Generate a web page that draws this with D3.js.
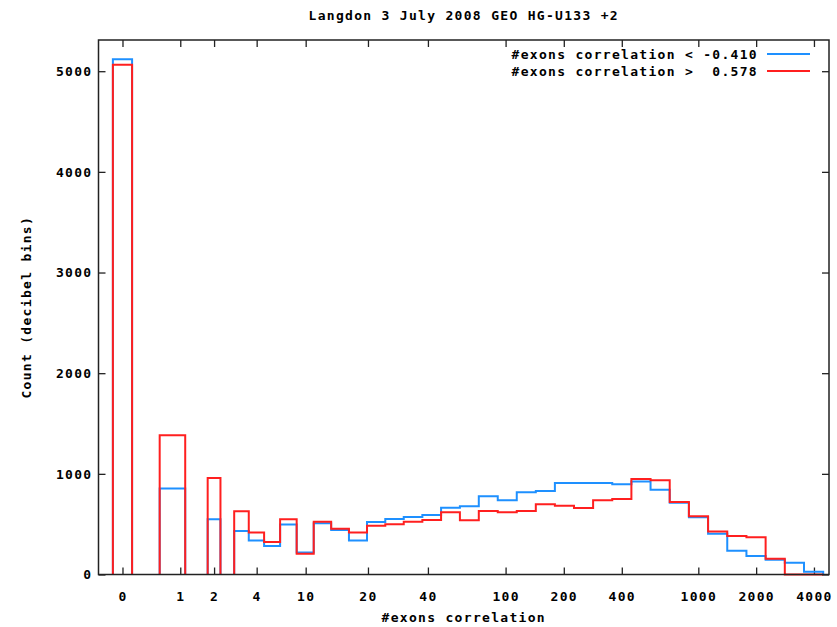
<!DOCTYPE html>
<html>
<head>
<meta charset="utf-8">
<script src="https://cdn.jsdelivr.net/npm/d3@7"></script>
<style>
  body { margin: 0; background: #fff; }
  text { font-family: "DejaVu Sans Mono", monospace; font-weight: bold; font-size: 13px; letter-spacing: 1.3px; fill: #000; }
</style>
</head>
<body>
<div id="chart"></div>
<script>
// n = 0 bin, edges in dB of (n+1)
var zeroBin = [-0.5, 0.5];
// other bins, edges in dB of the exon count n
var binLoDb = [-2.5, 2.5, 4.5, 5.5, 6.5, 7.5, 8.5, 9.5, 10.5, 11.5, 12.5, 13.5, 14.5, 15.5, 16.5, 17.5, 18.5,
  19.5, 20.5, 21.5, 22.5, 23.5, 24.5, 25.5, 26.5, 27.5, 28.5, 29.5, 30.5, 31.5, 32.5, 33.5, 34.5, 35.5];
var binHiDb = [0.5, 3.5, 5.5, 6.5, 7.5, 8.5, 9.5, 10.5, 11.5, 12.5, 13.5, 14.5, 15.5, 16.5, 17.5, 18.5, 19.5,
  20.5, 21.5, 22.5, 23.5, 24.5, 25.5, 26.5, 27.5, 28.5, 29.5, 30.5, 31.5, 32.5, 33.5, 34.5, 35.5, 36.5];

// counts (first value = n 0 bin)
var lowCorr = [5120, 855, 550, 432, 338, 283, 497, 218, 508, 443, 338, 522, 551, 571, 591, 664, 677, 777,
  737, 817, 830, 910, 910, 910, 896, 923, 843, 714, 568, 405, 236, 183, 146, 116, 27];
var highCorr = [5065, 1383, 958, 628, 417, 324, 548, 207, 524, 455, 417, 485, 498, 525, 541, 618, 538, 631,
  618, 631, 697, 684, 661, 737, 750, 949, 936, 720, 578, 428, 382, 369, 156, 0, 0];

var seriesNames = ["#exons correlation < -0.410", "#exons correlation >  0.578"];
var seriesColors = ["#1e90ff", "#ff1f1f"];

// tick positions on the (n+1) axis and their labels
var xTickAt = [1, 2, 3, 5, 9, 19, 39, 99, 199, 399, 999, 1999, 3999];
var xTickLabels = ["0", "1", "2", "4", "10", "20", "40", "100", "200", "400", "1000", "2000", "4000"];
var yTicks = [0, 1000, 2000, 3000, 4000, 5000];

var w = 837;
var h = 627;
var padding = { top: 40, right: 8, bottom: 52.5, left: 98.5 };

var svg = d3.select("#chart").append("svg").attr("width", w).attr("height", h);

// scales
var xScale = d3.scaleLog().domain([0.75, 4790]).range([padding.left, w - padding.right]);
var yScale = d3.scaleLinear().domain([0, 5310]).range([h - padding.bottom, padding.top]);

// bin edges on the (n+1) axis
var binLo = [Math.pow(10, zeroBin[0] / 10)].concat(binLoDb.map(function (d) { return Math.pow(10, d / 10) + 1; }));
var binHi = [Math.pow(10, zeroBin[1] / 10)].concat(binHiDb.map(function (d) { return Math.pow(10, d / 10) + 1; }));

// step outline, broken (null) where bins are not adjacent
function stepPoints(counts) {
  var pts = [];
  var prevHi = null;
  counts.forEach(function (c, i) {
    var lo = binLo[i], hi = binHi[i];
    if (prevHi === null || Math.abs(lo - prevHi) > 1e-6) {
      if (prevHi !== null) { pts.push([prevHi, 0]); pts.push(null); }
      pts.push([lo, 0]);
    }
    pts.push([lo, c]);
    pts.push([hi, c]);
    prevHi = hi;
  });
  pts.push([prevHi, 0]);
  return pts;
}

var line = d3.line()
  .defined(function (d) { return d !== null; })
  .x(function (d) { return xScale(d[0]); })
  .y(function (d) { return yScale(d[1]); });

// axes (gnuplot style: ticks inward, mirrored)
var xAxis = d3.axisBottom(xScale).tickValues(xTickAt)
  .tickFormat(function (d, i) { return xTickLabels[i]; })
  .tickSizeInner(-7).tickSizeOuter(0).tickPadding(17);
var xAxisTop = d3.axisTop(xScale).tickValues(xTickAt).tickFormat("").tickSizeInner(-7).tickSizeOuter(0);
var yAxis = d3.axisLeft(yScale).tickValues(yTicks).tickFormat(d3.format("d"))
  .tickSizeInner(-7).tickSizeOuter(0).tickPadding(6);
var yAxisRight = d3.axisRight(yScale).tickValues(yTicks).tickFormat("").tickSizeInner(-7).tickSizeOuter(0);

var gx = svg.append("g").attr("transform", "translate(0," + (h - padding.bottom) + ")").call(xAxis);
var gxt = svg.append("g").attr("transform", "translate(0," + padding.top + ")").call(xAxisTop);
var gy = svg.append("g").attr("transform", "translate(" + padding.left + ",0)").call(yAxis);
var gyr = svg.append("g").attr("transform", "translate(" + (w - padding.right) + ",0)").call(yAxisRight);

[gx, gxt, gy, gyr].forEach(function (g) {
  g.select(".domain").remove();
  g.selectAll(".tick line").attr("stroke", "#222").attr("stroke-width", 1.3);
  g.selectAll(".tick text").attr("font-family", null).attr("font-size", null).attr("fill", "#000");
});
gx.selectAll(".tick text").attr("dy", null).attr("y", 26.5);

// histogram outlines
svg.append("path").attr("d", line(stepPoints(lowCorr)))
  .attr("fill", "none").attr("stroke", seriesColors[0]).attr("stroke-width", 2);
svg.append("path").attr("d", line(stepPoints(highCorr)))
  .attr("fill", "none").attr("stroke", seriesColors[1]).attr("stroke-width", 2);

// frame
svg.append("rect")
  .attr("x", padding.left).attr("y", padding.top)
  .attr("width", w - padding.left - padding.right)
  .attr("height", h - padding.top - padding.bottom)
  .attr("fill", "none").attr("stroke", "#222").attr("stroke-width", 1.5);

// legend
seriesNames.forEach(function (name, i) {
  var ly = 54 + i * 17;
  svg.append("text").attr("x", 758).attr("y", ly + 5)
    .attr("text-anchor", "end").style("white-space", "pre").text(name);
  svg.append("line").attr("x1", 767).attr("x2", 810).attr("y1", ly).attr("y2", ly)
    .attr("stroke", seriesColors[i]).attr("stroke-width", 2);
});

// title and axis labels
svg.append("text").attr("x", (padding.left + w - padding.right) / 2).attr("y", 20)
  .attr("text-anchor", "middle").text("Langdon 3 July 2008 GEO HG-U133 +2");
svg.append("text").attr("x", (padding.left + w - padding.right) / 2).attr("y", 622)
  .attr("text-anchor", "middle").text("#exons correlation");
svg.append("text").attr("transform", "translate(31," + ((padding.top + h - padding.bottom) / 2) + ") rotate(-90)")
  .attr("text-anchor", "middle").text("Count (decibel bins)");
</script>
</body>
</html>
